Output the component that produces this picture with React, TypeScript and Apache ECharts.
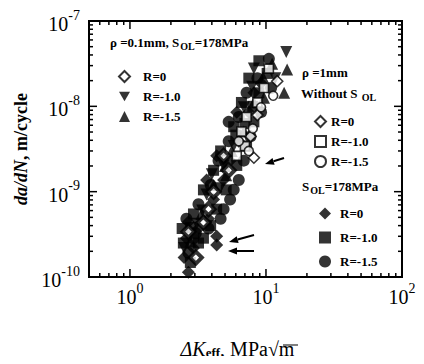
import React, { useEffect, useRef } from "react";
import * as echarts from "echarts";

const X_MIN = 0.5;
const X_MAX = 100;
const Y_MIN = 1e-10;
const Y_MAX = 1e-7;

// rho = 0.1 mm, S_OL = 178 MPa
const rho01_R0: number[][] = [
  [5.32, 1.78e-9], [3.78, 6.24e-10], [3.05, 1.69e-10], [2.69, 3.4e-10],
  [3.47, 4.35e-10], [4.12, 1.0e-9], [4.88, 2.63e-9],
];
const rho01_Rm10: number[][] = [
  [14.1, 4.33e-8], [8.15, 2.77e-8], [6.87, 9.75e-9], [5.79, 3.42e-9], [4.88, 2.03e-9],
  [3.66, 9.25e-10], [3.1, 4.22e-10], [2.5, 2.19e-10], [11.7, 2.14e-8],
  [4.0, 1.6e-9], [4.6, 1.1e-9], [3.4, 6.0e-10], [7.9, 1.7e-8],
];
const rho01_Rm15: number[][] = [
  [11.1, 3.16e-8], [14.3, 2.7e-8], [9.67, 1.26e-8], [6.87, 5.07e-9], [8.15, 1.11e-8],
  [5.1, 1.56e-9], [4.12, 1.2e-9], [3.35, 5.48e-10], [2.78, 2.6e-10], [13.6, 1.44e-8],
  [5.0, 2.0e-9], [5.6, 3.0e-9], [9.5, 2.2e-8],
];
// rho = 1 mm, without S_OL
const rho1_R0: number[][] = [
  [8.15, 2.5e-9], [12.1, 1.97e-8], [8.65, 7.9e-9], [7.7, 4.44e-9],
];
const rho1_Rm10: number[][] = [
  [9.67, 1.64e-8], [8.65, 1.11e-8], [7.2, 7.5e-9], [6.6, 5.07e-9], [7.0, 3.42e-9],
  [10.5, 2.77e-8], [6.1, 2.63e-9],
];
const rho1_Rm15: number[][] = [
  [9.2, 9.75e-9], [8.0, 5.5e-9], [6.31, 3.9e-9], [11.3, 1.33e-8], [7.48, 3.0e-9],
];
// rho = 1 mm, S_OL = 178 MPa
const ol_R0: number[][] = [
  [2.69, 1.14e-10], [2.5, 1.69e-10], [2.93, 2.19e-10], [2.6, 2.85e-10], [4.34, 3.0e-10],
  [4.34, 2.37e-10], [3.19, 3.7e-10], [3.78, 4.81e-10], [4.12, 8.11e-10], [4.88, 1.37e-9],
  [5.45, 2.31e-9], [6.31, 3.9e-9], [7.48, 8.55e-9], [9.2, 1.87e-8],
  [2.69, 4.4e-10], [3.66, 1.37e-9], [4.34, 2.63e-9], [6.1, 8.55e-9], [8.15, 1.44e-8],
];
const ol_Rm10: number[][] = [
  [2.47, 2.5e-10], [2.78, 1.48e-10], [2.42, 3.7e-10], [3.47, 2.85e-10], [2.93, 5.48e-10],
  [4.34, 6.24e-10], [3.47, 1.05e-9], [5.1, 1.05e-9], [4.12, 1.78e-9], [6.1, 2.03e-9],
  [4.64, 3.0e-9], [7.2, 3.42e-9], [5.79, 5.77e-9], [8.15, 6.58e-9], [6.6, 1.11e-8],
  [8.87, 1.44e-8], [7.48, 2.14e-8], [10.2, 2.43e-8], [8.87, 3.42e-8],
  [3.19, 2.5e-10], [3.92, 4.0e-10], [2.8, 3.8e-10], [6.0, 4.6e-9], [7.0, 6.3e-9], [8.0, 1.0e-8],
];
const ol_Rm15: number[][] = [
  [2.69, 1.92e-10], [3.05, 3.25e-10], [2.6, 4.81e-10], [3.78, 3.7e-10], [3.19, 7.12e-10],
  [4.64, 4.81e-10], [3.92, 1.2e-9], [5.45, 8.11e-10], [4.48, 2.31e-9], [6.31, 1.37e-9],
  [5.32, 3.9e-9], [7.7, 4.44e-9], [6.31, 7.5e-9], [9.2, 8.55e-9], [7.2, 1.44e-8],
  [10.9, 1.64e-8],
  [2.93, 2.85e-10], [4.88, 6.24e-10], [5.79, 1.05e-9], [6.87, 2.31e-9], [5.32, 6.58e-9],
  [8.65, 2.14e-8], [10.5, 3.6e-8],
];

const X_MAJOR = [1, 10];
const Y_MAJOR = [1e-9, 1e-8];
const X_MINOR: number[] = [];
[0.1, 1, 10].forEach((d) => {
  for (let k = 2; k <= 9; k++) {
    const v = k * d;
    if (v > X_MIN && v < X_MAX) X_MINOR.push(v);
  }
});
const Y_MINOR: number[] = [];
[1e-10, 1e-9, 1e-8].forEach((d) => {
  for (let k = 2; k <= 9; k++) Y_MINOR.push(k * d);
});

const FONT = "'Liberation Serif', 'DejaVu Serif', serif";
const DOWN_TRI = "path://M0,0L20,0L10,17Z";

function powLabel(v: number) {
  const e = Math.round(Math.log10(v));
  const p = Math.pow(10, e);
  if (Math.abs(v - p) > p * 1e-6) return "";
  return `{b|10}{s|${e}}`;
}

const labelRich = {
  b: { fontFamily: FONT, fontSize: 20, color: "#000", lineHeight: 26, verticalAlign: "bottom" as const },
  s: { fontFamily: FONT, fontSize: 14, color: "#000", lineHeight: 26, verticalAlign: "top" as const },
};

function tickSeries(values: number[], dir: "x" | "y", len: number) {
  return {
    type: "custom",
    silent: true,
    z: 5,
    data: values.map((v) => (dir === "x" ? [v, Y_MIN] : [1, v])),
    renderItem: (params: any, api: any) => {
      const cs = params.coordSys;
      const p = api.coord([api.value(0), api.value(1)]);
      const style = { stroke: "#000", lineWidth: 1.5 };
      if (dir === "x") {
        const x = p[0];
        return {
          type: "group",
          children: [
            { type: "line", shape: { x1: x, y1: cs.y + cs.height, x2: x, y2: cs.y + cs.height - len }, style },
            { type: "line", shape: { x1: x, y1: cs.y, x2: x, y2: cs.y + len }, style },
          ],
        };
      }
      const y = p[1];
      return {
        type: "group",
        children: [
          { type: "line", shape: { x1: cs.x, y1: y, x2: cs.x + len, y2: y }, style },
          { type: "line", shape: { x1: cs.x + cs.width, y1: y, x2: cs.x + cs.width - len, y2: y }, style },
        ],
      };
    },
  };
}

function arrow(x1: number, y1: number, x2: number, y2: number) {
  const ang = Math.atan2(y2 - y1, x2 - x1);
  const L = 9;
  const W = 3.5;
  const bx = x2 - L * Math.cos(ang);
  const by = y2 - L * Math.sin(ang);
  const nx = -Math.sin(ang);
  const ny = Math.cos(ang);
  return {
    type: "group",
    children: [
      { type: "line", shape: { x1, y1, x2: bx, y2: by }, style: { stroke: "#000", lineWidth: 2 } },
      {
        type: "polygon",
        shape: { points: [[x2, y2], [bx + nx * W, by + ny * W], [bx - nx * W, by - ny * W]] },
        style: { fill: "#000" },
      },
    ],
  };
}

const textRich = {
  n: { fontFamily: FONT, fontSize: 13, fontWeight: "bold" as const, color: "#000" },
  sub: { fontFamily: FONT, fontSize: 10, fontWeight: "bold" as const, color: "#000", padding: [8, 0, 0, 1] },
};

function label(x: number, y: number, text: string) {
  return {
    type: "text",
    x,
    y,
    style: { text, rich: textRich, verticalAlign: "middle", fill: "#000", font: `bold 13px ${FONT}` },
  };
}

const legendText = (pad: number) => ({
  fontFamily: FONT, fontSize: 13, fontWeight: "bold", color: "#000", lineHeight: 12, padding: [0, 0, 0, pad],
});

export default function App() {
  const ref = useRef<HTMLDivElement>(null);
  useEffect(() => {
    if (!ref.current) return;
    const chart = echarts.init(ref.current, undefined, { renderer: "svg" });
    const filled = { color: "#000" };
    const open = { color: "#fff", borderColor: "#000", borderWidth: 1.6 };
    const fmt = (n: string) => n.split("|")[1];
    const option: any = {
      animation: false,
      backgroundColor: "#fff",
      grid: { left: 89, right: 22, top: 21, bottom: 79, show: true, borderColor: "#000", borderWidth: 2, backgroundColor: "transparent" },
      xAxis: {
        type: "log",
        min: X_MIN,
        max: X_MAX,
        logBase: 10,
        splitLine: { show: false },
        axisTick: { show: false },
        axisLine: { lineStyle: { color: "#000", width: 2 } },
        axisLabel: { formatter: powLabel, rich: labelRich, margin: 4, color: "#000" },
        name: "{i|ΔK}{e|eff}{n|, MPa√m}",
        nameLocation: "middle",
        nameGap: 61,
        nameTextStyle: {
          padding: [0, 16, 0, 0],
          rich: {
            i: { fontFamily: FONT, fontSize: 20, fontStyle: "italic", color: "#000" },
            e: { fontFamily: FONT, fontSize: 13, fontWeight: "bold", color: "#000", padding: [8, 0, 0, 0] },
            n: { fontFamily: FONT, fontSize: 20, color: "#000" },
          },
        },
      },
      yAxis: {
        type: "log",
        min: Y_MIN,
        max: Y_MAX,
        logBase: 10,
        splitLine: { show: false },
        axisTick: { show: false },
        axisLine: { lineStyle: { color: "#000", width: 2 } },
        axisLabel: { formatter: powLabel, rich: labelRich, margin: 9, color: "#000" },
        name: "{i|da/dN}{n|, m/cycle}",
        nameLocation: "middle",
        nameGap: 48,
        nameRotate: 90,
        nameTextStyle: {
          rich: {
            i: { fontFamily: FONT, fontSize: 18, fontStyle: "italic", fontWeight: "bold", color: "#000" },
            n: { fontFamily: FONT, fontSize: 18, fontWeight: "bold", color: "#000" },
          },
        },
      },
      legend: [
        {
          left: 113, top: 65, orient: "vertical", selectedMode: false,
          itemWidth: 11, itemHeight: 11, itemGap: 7,
          data: ["a|R=0", { name: "a|R=-1.0", icon: DOWN_TRI }, "a|R=-1.5"],
          formatter: fmt,
          textStyle: legendText(8),
        },
        {
          left: 309, top: 110, orient: "vertical", selectedMode: false,
          itemWidth: 11, itemHeight: 11, itemGap: 7,
          data: ["b|R=0", "b|R=-1.0", "b|R=-1.5"],
          formatter: fmt,
          textStyle: legendText(0),
        },
        {
          left: 314, top: 202, orient: "vertical", selectedMode: false,
          itemWidth: 12, itemHeight: 12, itemGap: 11,
          data: ["c|R=0", "c|R=-1.0", "c|R=-1.5"],
          formatter: fmt,
          textStyle: legendText(4),
        },
      ],
      series: [
        { name: "c|R=0", type: "scatter", symbol: "diamond", symbolSize: 13, data: ol_R0, itemStyle: filled },
        { name: "c|R=-1.0", type: "scatter", symbol: "rect", symbolSize: 11, data: ol_Rm10, itemStyle: filled },
        { name: "c|R=-1.5", type: "scatter", symbol: "circle", symbolSize: 12, data: ol_Rm15, itemStyle: filled },
        { name: "a|R=-1.0", type: "scatter", symbol: "triangle", symbolRotate: 180, symbolSize: 12, data: rho01_Rm10, itemStyle: filled },
        { name: "a|R=-1.5", type: "scatter", symbol: "triangle", symbolSize: 12, data: rho01_Rm15, itemStyle: filled },
        { name: "a|R=0", type: "scatter", symbol: "diamond", symbolSize: 12, data: rho01_R0, itemStyle: { color: "#fff", borderColor: "#000", borderWidth: 4 } },
        { name: "b|R=0", type: "scatter", symbol: "diamond", symbolSize: 11, data: rho1_R0, itemStyle: open },
        { name: "b|R=-1.0", type: "scatter", symbol: "rect", symbolSize: 9, data: rho1_Rm10, itemStyle: open },
        { name: "b|R=-1.5", type: "scatter", symbol: "circle", symbolSize: 9, data: rho1_Rm15, itemStyle: open },
        tickSeries(X_MINOR, "x", 4),
        tickSeries(X_MAJOR, "x", 8),
        tickSeries(Y_MINOR, "y", 4),
        tickSeries(Y_MAJOR, "y", 8),
      ],
      graphic: [
        label(110, 42, "{n|ρ =0.1mm, S}{sub|OL}{n|=178MPa}"),
        label(302, 72, "{n|ρ =1mm}"),
        label(301, 93, "{n|Without S }{sub|OL}"),
        label(302, 186, "{n|S}{sub|OL}{n|=178MPa}"),
        arrow(284, 158, 265, 164),
        arrow(254, 235, 229, 242),
        arrow(254, 251, 228, 251),
        { type: "line", shape: { x1: 283, y1: 345, x2: 298, y2: 345 }, style: { stroke: "#000", lineWidth: 1 } },
      ],
    };
    chart.setOption(option);
    return () => chart.dispose();
  }, []);
  return <div ref={ref} style={{ width: 424, height: 364, margin: -8 }} />;
}
